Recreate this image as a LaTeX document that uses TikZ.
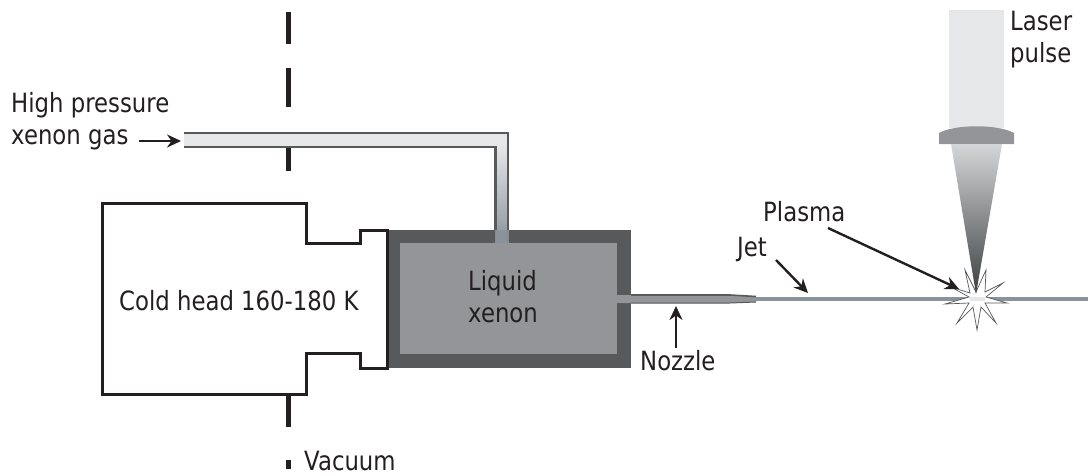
\documentclass[tikz,border=0pt]{standalone}
\usepackage{fontspec}
\setmainfont[FakeStretch=0.86]{DejaVu Sans}
\usepackage{xcolor}
\usetikzlibrary{arrows.meta,calc}
\definecolor{WallDark}{HTML}{58595b}
\definecolor{WallGrey}{HTML}{939598}
\definecolor{BeamGrey}{HTML}{e6e7e8}
\definecolor{JetGrey}{HTML}{8a939b}
\definecolor{InkBlack}{HTML}{231f20}
\tikzset{
    label text/.style={font=\fontsize{26.5}{30}\selectfont,text=InkBlack,inner sep=0pt,anchor=base west},
    pointer/.style={draw=InkBlack,line width=2.4pt,-{Stealth[length=14pt,width=13pt]}},
    vacuum wall/.style={line width=5pt,draw=InkBlack}
}

\begin{document}
\begin{tikzpicture}[x=1pt,y=-1pt]
    \useasboundingbox (0,0) rectangle (1088,475);

    \foreach \ya/\yb in {12/44,68/107,148/171,394/427,460/469}
        \draw[vacuum wall] (288,\ya) -- (288,\yb);

    \fill[BeamGrey] (184,133) -- (508,133) -- (508,147) -- (184,147) -- cycle;
    \shade[top color=BeamGrey,bottom color=JetGrey] (496,146) rectangle (508,243);
    \draw[WallDark,line width=2.5pt] (184,133) -- (508,133) -- (508,243);
    \draw[WallDark,line width=2.5pt] (184,147) -- (495.5,147) -- (495.5,243);

    \fill[WallDark] (387,230) rectangle (631,368);
    \fill[WallGrey] (400,243) rectangle (617,354);
    \fill[JetGrey] (496,230) rectangle (508,243);
    \draw[WallDark!70,line width=1.5pt] (495.5,230) -- (495.5,243) (508,230) -- (508,243);

    \draw[InkBlack,line width=3pt,line join=miter] (102,203) -- (306,203) -- (306,243) -- (360,243)
        -- (360,230) -- (387,230) -- (387,368) -- (360,368) -- (360,353) -- (306,353)
        -- (306,394) -- (102,394) -- cycle;

    \fill[WallGrey] (617,295) -- (730,295) -- (756,296.5) -- (756,302) -- (730,303) -- (617,303) -- cycle;
    \draw[WallDark,line width=1.6pt] (631,295) -- (730,295) -- (756,296.5);
    \draw[WallDark,line width=1pt] (631,303) -- (730,303) -- (756,302);
    \draw[JetGrey,line width=3.6pt] (756,299) -- (1088,299);

    \fill[BeamGrey] (949,10) rectangle (1004,128);
    \fill[WallGrey] (939,144) -- (939,133) .. controls (955,124) and (998,124) .. (1014,133) -- (1014,144) -- cycle;

    \filldraw[draw=WallDark,fill=white,line width=0.7pt,line join=miter] (976,292)
        -- (965,270) -- (970,293) -- (951,287) -- (969,297) -- (945,304) -- (969,303)
        -- (957,323) -- (973,307) -- (977,330) -- (981,307) -- (996,323) -- (985,303)
        -- (1007,303) -- (986,297) -- (1003,283) -- (985,292) -- (986,270) -- cycle;
    \fill[BeamGrey] (970,297) rectangle (985,301);
    \shade[top color=BeamGrey!80!JetGrey,bottom color=WallDark!70!black] (951,144) -- (1002,144) -- (976,294) -- cycle;

    \node[label text] (highlabel) at (11,112) {High pressure};
    \node[label text] (gaslabel) at (11,144) {xenon gas};
    \node[label text] (headlabel) at (119,310) {Cold head 160-180 K};
    \node[label text] (liquidlabel) at (468,290) {Liquid};
    \node[label text] (xenonlabel) at (468,322) {xenon};
    \node[label text] (nozzlelabel) at (640,370) {Nozzle};
    \node[label text] (jetlabel) at (737,256) {Jet};
    \node[label text] (plasmalabel) at (763,221) {Plasma};
    \node[label text] (vacuumlabel) at (304,470) {Vacuum};
    \node[label text] (laserlabel) at (1010,30) {Laser};
    \node[label text] (pulselabel) at (1010,62) {pulse};

    \coordinate (gastail) at (139,141);
    \coordinate (tubeinlet) at (181,141);
    \coordinate (nozzletail) at (676,348);
    \coordinate (nozzletip) at (676,306);
    \coordinate (jettail) at (776,260);
    \coordinate (jettip) at (808,293);
    \coordinate (sparktail) at (828,228);
    \coordinate (sparktip) at (959,289);

    \draw[pointer] (gastail) -- (tubeinlet);
    \draw[pointer] (nozzletail) -- (nozzletip);
    \draw[pointer] (jettail) -- (jettip);
    \draw[pointer] (sparktail) -- (sparktip);
\end{tikzpicture}
\end{document}
